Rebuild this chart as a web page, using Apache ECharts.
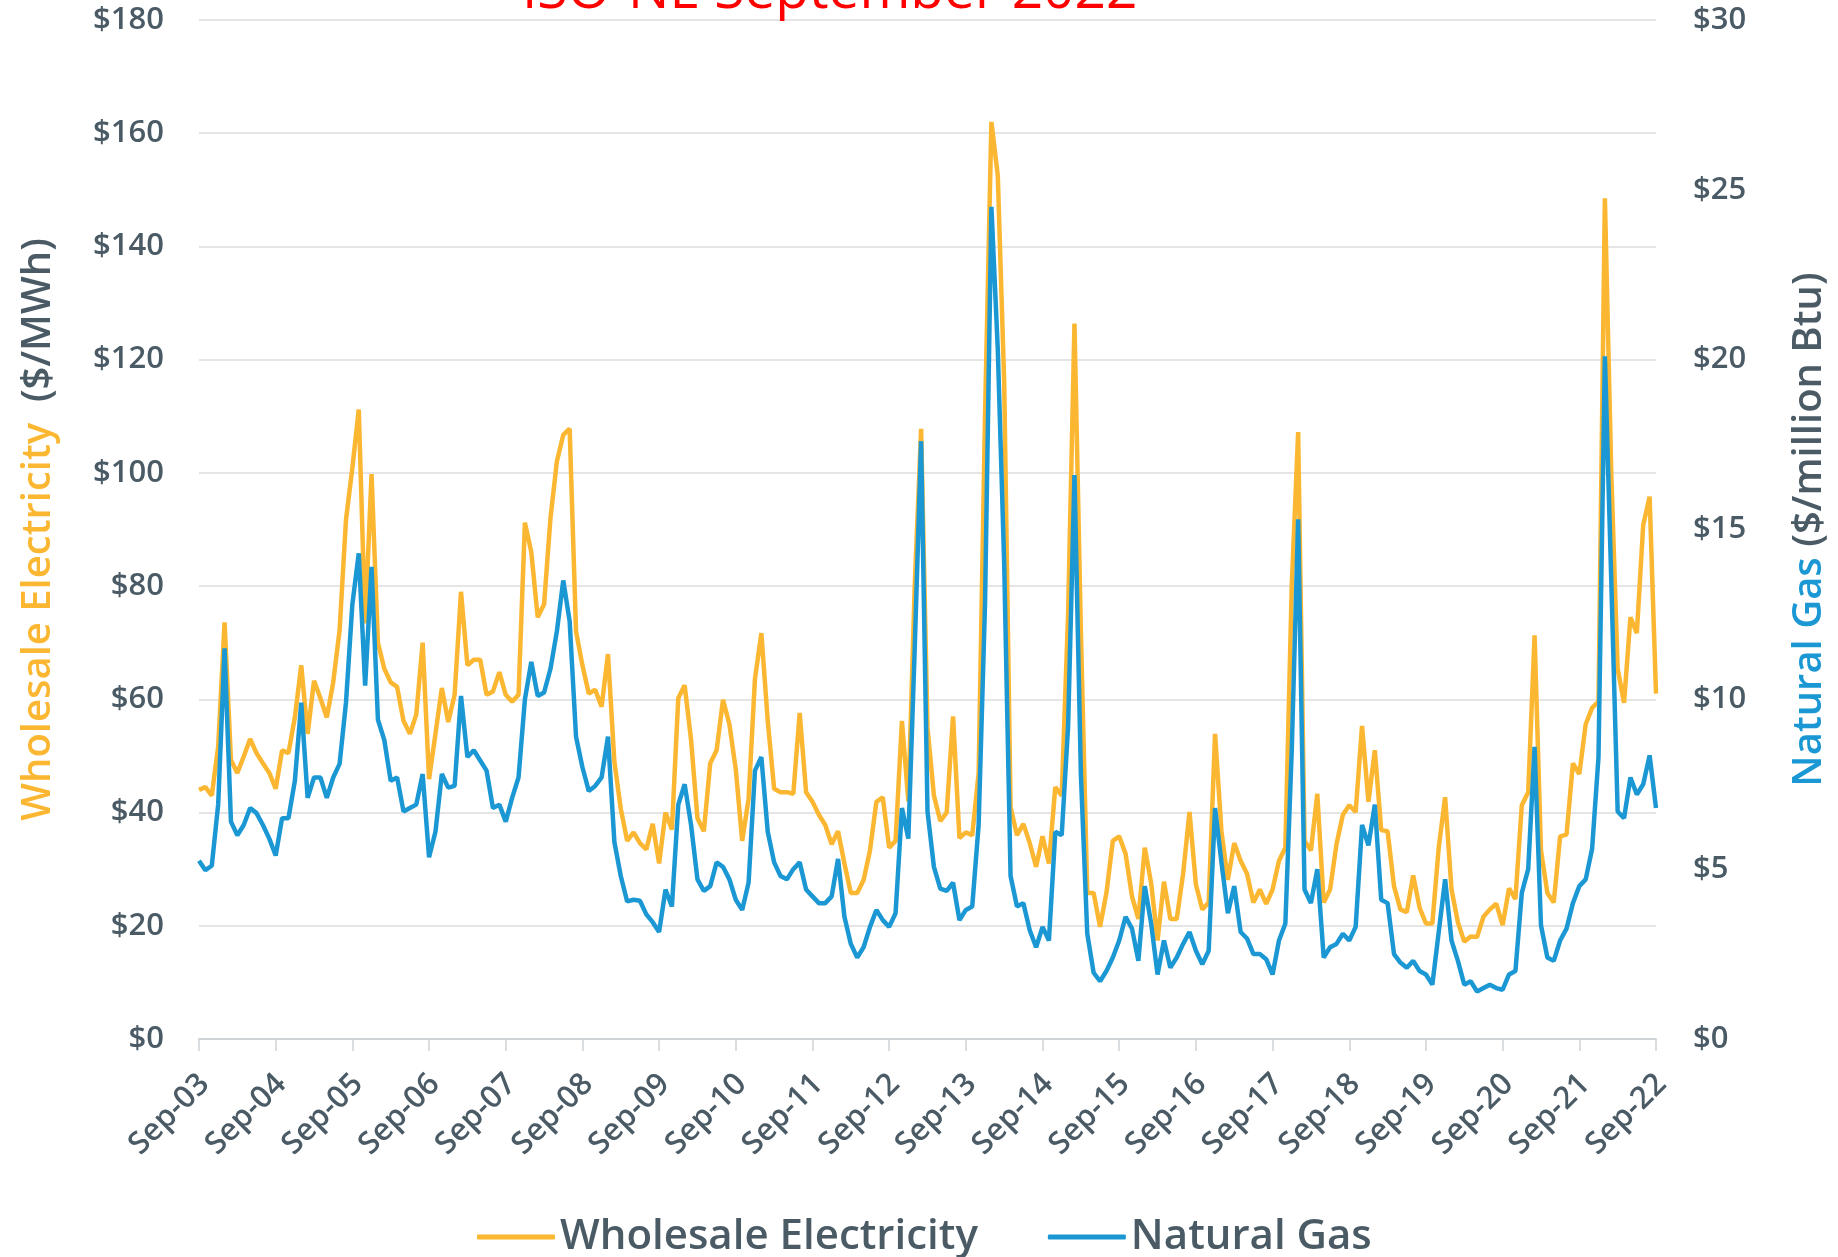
<!DOCTYPE html>
<html>
<head>
<meta charset="utf-8">
<script src="https://cdn.jsdelivr.net/npm/echarts@6/dist/echarts.min.js"></script>
<style>
html,body{margin:0;padding:0;background:#fff;}
#chart{width:1838px;height:1257px;}
</style>
</head>
<body>
<div id="chart"></div>
<script>
// Monthly data, Sep-03 .. Sep-22
const startYear = 2003, startMonth = 8; // September (0-based)
const monthCount = 229;
const monthNames = ['Jan','Feb','Mar','Apr','May','Jun','Jul','Aug','Sep','Oct','Nov','Dec'];
const categories = [];
for (let i = 0; i < monthCount; i++) {
  const m = (startMonth + i) % 12;
  const y = startYear + Math.floor((startMonth + i) / 12);
  categories.push(monthNames[m] + '-' + String(y % 100).padStart(2, '0'));
}

const electricity = [
44,44.5,43,51.6,73.6,49.3,47,49.9,53,50.5,48.7,47,
44.2,51,50.5,56.8,66,53.9,63.3,60.2,56.8,63,72.2,91.7,
100.9,111.2,73.4,99.8,70,65.4,63,62.2,56.2,53.9,57.3,70,
45.9,53.9,62,56,60.8,79,66,67,67,60.8,61.4,64.8,
60.8,59.6,60.8,91.2,86,74.5,76.8,92,102,106.7,107.8,72,
66,61,61.7,58.7,68,49,40.7,35,36.5,34.6,33.5,38,
31,40,37,60.2,62.5,52.8,39,36.7,48.7,51,59.9,55.6,
47.6,35,42.4,63.6,71.7,56.2,44.2,43.6,43.6,43.3,57.6,43.6,
41.9,39.6,37.8,34.4,36.7,31,25.8,25.8,28.1,33.3,41.9,42.7,
33.8,35,56.2,42,80,107.8,55,43,38.5,40,57,35.5,
36.5,36,47,110,162,152.5,116,41,36,38,34.6,30.4,
35.8,31,44.5,43,75,126.4,72,25.8,25.8,19.8,25.8,35,
35.8,32.7,25.2,21.2,33.8,27.5,17.4,27.8,21.2,21.2,29.2,40.1,
27.3,22.9,24.1,53.9,36.7,28.1,34.6,31.5,29.2,24.1,26.4,23.9,
26.4,31.5,33.8,80,107.2,35,33.3,43.3,24.1,26.4,34.4,39.6,
41.3,40.1,55.3,41.9,51,36.9,36.7,27,22.9,22.4,28.9,23.2,
20.4,20.4,33.8,42.7,26.4,20.6,17.2,18.1,18,21.6,22.9,23.9,
20.1,26.6,24.7,41.3,43.6,71.3,33.3,25.8,24.1,35.8,36.1,48.7,
46.8,55.6,58.5,59.6,148.5,100,65.4,59.4,74.5,71.7,90.8,95.8,
61
];

const naturalGas = [
5.25,4.97,5.1,6.9,11.5,6.4,6.0,6.3,6.8,6.65,6.3,5.9,
5.4,6.5,6.5,7.6,9.9,7.1,7.7,7.7,7.1,7.7,8.1,9.9,
12.8,14.3,10.4,13.9,9.4,8.8,7.6,7.7,6.7,6.8,6.9,7.8,
5.35,6.1,7.8,7.4,7.45,10.1,8.3,8.5,8.2,7.9,6.8,6.9,
6.4,7.1,7.7,10.0,11.1,10.1,10.2,10.9,12.0,13.5,12.3,8.9,
8.0,7.3,7.45,7.7,8.9,5.8,4.8,4.05,4.1,4.07,3.67,3.44,
3.15,4.4,3.9,6.9,7.5,6.3,4.7,4.36,4.5,5.2,5.07,4.7,
4.1,3.8,4.6,7.9,8.3,6.1,5.2,4.8,4.7,5.0,5.2,4.4,
4.2,4.0,4.0,4.2,5.3,3.6,2.8,2.4,2.7,3.3,3.8,3.5,
3.3,3.7,6.8,5.9,11.5,17.6,6.7,5.07,4.43,4.36,4.6,3.5,
3.8,3.9,6.3,12.8,24.5,20.3,14,4.8,3.9,4.0,3.2,2.7,
3.3,2.9,6.1,6.0,9.2,16.6,7.8,3.1,1.95,1.7,2.0,2.4,
2.9,3.6,3.25,2.3,4.5,3.4,1.9,2.9,2.1,2.4,2.8,3.15,
2.6,2.2,2.6,6.8,5.2,3.7,4.5,3.15,2.96,2.5,2.5,2.35,
1.9,2.9,3.4,8.5,15.3,4.4,4.0,5.0,2.4,2.7,2.8,3.1,
2.9,3.3,6.3,5.7,6.9,4.1,4.0,2.5,2.25,2.1,2.3,2.0,
1.9,1.6,3.15,4.7,2.9,2.3,1.6,1.7,1.4,1.5,1.6,1.5,
1.45,1.9,2.0,4.3,5.0,8.6,3.35,2.4,2.3,2.9,3.25,4.0,
4.5,4.7,5.6,8.3,20.1,13.5,6.7,6.5,7.7,7.2,7.5,8.35,
6.8
];

const titleText = 'ISO-NE September 2022';
const seriesNames = ['Wholesale Electricity', 'Natural Gas'];
const leftAxisTicks = { min: 0, max: 180, interval: 20 };
const rightAxisTicks = { min: 0, max: 30, interval: 5 };

const ORANGE = '#fbb731';
const BLUE = '#1b98d4';
const SLATE = '#4b5b66';
const FONT = '"Open Sans", "Noto Sans", sans-serif';

const chart = echarts.init(document.getElementById('chart'), null, { renderer: 'canvas' });

chart.setOption({
  animation: false,
  backgroundColor: '#ffffff',
  title: {
    text: titleText,
    left: 517,
    top: -40,
    textStyle: { color: '#ff0000', fontSize: 55, fontWeight: 'normal', fontFamily: FONT }
  },
  grid: { left: 199, right: 182, top: 20, bottom: 218, containLabel: false },
  legend: {
    bottom: -6,
    left: 472,
    itemWidth: 78,
    itemHeight: 5,
    itemGap: 70,
    icon: 'roundRect',
    textStyle: { color: SLATE, fontSize: 42, fontWeight: 600, fontFamily: FONT },
    data: seriesNames
  },
  xAxis: {
    type: 'category',
    data: categories,
    boundaryGap: false,
    axisLine: { lineStyle: { color: '#cfd4d6', width: 2 } },
    axisTick: {
      interval: function (idx) { return idx % 12 === 0; },
      length: 12,
      lineStyle: { color: '#cfd4d6', width: 1.5 }
    },
    axisLabel: {
      interval: function (idx) { return idx % 12 === 0; },
      rotate: 45,
      margin: 46,
      padding: [0, -8, 0, 0],
      color: SLATE,
      fontSize: 31,
      fontWeight: 600,
      fontFamily: FONT
    },
    splitLine: { show: false }
  },
  yAxis: [
    {
      type: 'value',
      min: leftAxisTicks.min, max: leftAxisTicks.max, interval: leftAxisTicks.interval,
      position: 'left',
      axisLine: { show: false },
      axisTick: { show: false },
      axisLabel: {
        margin: 35, color: SLATE, fontSize: 31, fontWeight: 600, fontFamily: FONT,
        formatter: function (v) { return '$' + v; }
      },
      splitLine: { lineStyle: { color: '#dcdcdc', width: 1.5 } },
      name: '{o|Wholesale Electricity}{g|  ($/MWh)}',
      nameLocation: 'middle',
      nameRotate: 90,
      nameGap: 140,
      nameTextStyle: {
        fontFamily: FONT,
        rich: {
          o: { color: ORANGE, fontSize: 40, fontWeight: 600, fontFamily: FONT },
          g: { color: SLATE, fontSize: 40, fontWeight: 600, fontFamily: FONT }
        }
      }
    },
    {
      type: 'value',
      min: rightAxisTicks.min, max: rightAxisTicks.max, interval: rightAxisTicks.interval,
      position: 'right',
      axisLine: { show: false },
      axisTick: { show: false },
      axisLabel: {
        margin: 37, color: SLATE, fontSize: 31, fontWeight: 600, fontFamily: FONT,
        formatter: function (v) { return '$' + v; }
      },
      splitLine: { show: false },
      name: '{b|Natural Gas}{g| ($/million Btu)}',
      nameLocation: 'middle',
      nameRotate: 90,
      nameGap: 134,
      nameTextStyle: {
        fontFamily: FONT,
        rich: {
          b: { color: BLUE, fontSize: 40, fontWeight: 600, fontFamily: FONT },
          g: { color: SLATE, fontSize: 40, fontWeight: 600, fontFamily: FONT }
        }
      }
    }
  ],
  series: [
    {
      name: seriesNames[0],
      type: 'line',
      yAxisIndex: 0,
      data: electricity,
      symbol: 'none',
      lineStyle: { color: ORANGE, width: 4.5 },
      itemStyle: { color: ORANGE },
      z: 2
    },
    {
      name: seriesNames[1],
      type: 'line',
      yAxisIndex: 1,
      data: naturalGas,
      symbol: 'none',
      lineStyle: { color: BLUE, width: 4.5 },
      itemStyle: { color: BLUE },
      z: 3
    }
  ]
});
</script>
</body>
</html>
